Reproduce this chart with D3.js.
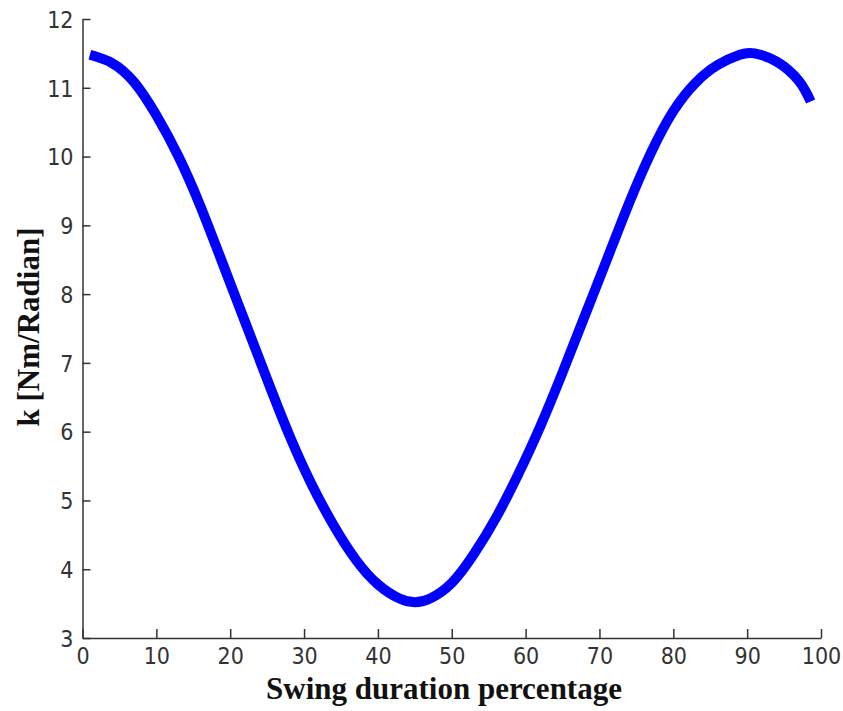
<!DOCTYPE html>
<html>
<head>
<meta charset="utf-8">
<script src="https://cdn.jsdelivr.net/npm/d3@7"></script>
<style>
  body { margin: 0; background: #fff; }
  .tick-label { font-family: "Liberation Sans Narrow", "DejaVu Sans Condensed", "Liberation Sans", sans-serif; font-size: 23px; fill: #333; }
  .axis-title { font-family: "Liberation Serif", "DejaVu Serif", serif; font-weight: bold; fill: #111; }
</style>
</head>
<body>
<script>
// values
var swingPct = [1, 4, 7, 10, 13, 16, 19, 22, 25, 28, 31, 34, 37, 40, 43, 45, 47, 50, 53, 56, 59,
                62, 65, 68, 71, 74, 77, 80, 83, 86, 89, 91, 94, 97, 98.6];
var stiffness = [11.48, 11.36, 11.08, 10.6, 10.0, 9.27, 8.44, 7.6, 6.76, 5.95, 5.24, 4.64, 4.14,
                 3.78, 3.57, 3.52, 3.57, 3.8, 4.22, 4.75, 5.38, 6.08, 6.86, 7.68, 8.5, 9.32, 10.06,
                 10.66, 11.07, 11.33, 11.48, 11.5, 11.38, 11.1, 10.8];
var xTicks = [0, 10, 20, 30, 40, 50, 60, 70, 80, 90, 100];
var yTicks = [3, 4, 5, 6, 7, 8, 9, 10, 11, 12];

var w = 843, h = 711;
var svg = d3.select("body").append("svg")
    .attr("width", w)
    .attr("height", h);

var x = d3.scaleLinear().domain([0, 100]).range([82.5, 821]);
var y = d3.scaleLinear().domain([3, 12]).range([638, 19]);

// bottom axis, ticks pointing inward
var xAxis = svg.append("g")
    .attr("transform", "translate(0," + y(3) + ")")
    .call(d3.axisBottom(x).tickValues(xTicks).tickSizeInner(-9).tickSizeOuter(0).tickPadding(0));
xAxis.select(".domain").attr("stroke", "#333").attr("stroke-width", 1.5);
xAxis.selectAll(".tick line").attr("stroke", "#333").attr("stroke-width", 1.5);
xAxis.selectAll(".tick text").attr("class", "tick-label").attr("y", 26).attr("dy", null);

// left axis
var yAxis = svg.append("g")
    .attr("transform", "translate(" + x(0) + ",0)")
    .call(d3.axisLeft(y).tickValues(yTicks).tickSizeInner(-8).tickSizeOuter(0).tickPadding(0));
yAxis.select(".domain").attr("stroke", "#333").attr("stroke-width", 1.5);
yAxis.selectAll(".tick line").attr("stroke", "#333").attr("stroke-width", 1.5);
yAxis.selectAll(".tick text").attr("class", "tick-label").attr("x", -9).attr("dy", "0.36em");

// the curve
var line = d3.line()
    .x(function(d, i){ return x(swingPct[i]); })
    .y(function(d){ return y(d); })
    .curve(d3.curveNatural);

svg.append("path")
    .datum(stiffness)
    .attr("d", line)
    .attr("fill", "none")
    .attr("stroke", "#0000ff")
    .attr("stroke-width", 10)
    .attr("stroke-linejoin", "round");

// axis titles
svg.append("text")
    .attr("class", "axis-title")
    .attr("x", 444)
    .attr("y", 699)
    .attr("text-anchor", "middle")
    .style("font-size", "31px")
    .text("Swing duration percentage");

svg.append("text")
    .attr("class", "axis-title")
    .attr("transform", "translate(39,327) rotate(-90)")
    .attr("text-anchor", "middle")
    .style("font-size", "31px")
    .text("k [Nm/Radian]");
</script>
</body>
</html>
